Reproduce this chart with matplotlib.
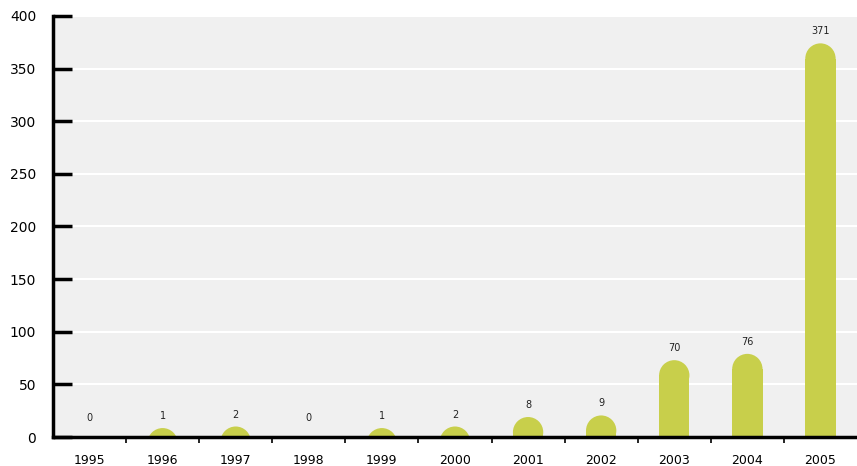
import matplotlib.pyplot as plt
from matplotlib.patches import Ellipse

# data
years = ["1995", "1996", "1997", "1998", "1999", "2000",
         "2001", "2002", "2003", "2004", "2005"]
counts = [0, 1, 2, 0, 1, 2, 8, 9, 70, 76, 371]

bar_color = "#c8cf4b"
bg_color = "#f0f0f0"

plt.rcParams["font.family"] = ["Liberation Sans Narrow", "DejaVu Sans"]

fig = plt.figure(figsize=(8.57, 4.66), dpi=100)
ax = fig.add_axes([0.0618, 0.0622, 0.9382, 0.9035])
ax.set_facecolor(bg_color)
ax.set_xlim(-0.5, len(years) - 0.5)
ax.set_ylim(0, 400)

width = 0.415
# cap radius in data units (half the bar width in pixels)
r = 14.4

for i, v in enumerate(counts):
    if v == 0:
        top = 7
    else:
        # small bars are drawn as bumps, larger ones end at their value
        top = v + 3 if v > 20 else 7 + 1.5 * v
        body = max(top - r, 0)
        if body > 0:
            ax.bar(i, body, width=width, color=bar_color, zorder=3, linewidth=0)
        ax.add_patch(Ellipse((i, top - r), width, 2 * r, color=bar_color,
                             zorder=3, linewidth=0, clip_on=True))
    ax.annotate(str(v), (i, top), xytext=(0, 5), textcoords="offset points",
                ha="center", va="bottom", fontsize=7, color="#222222")

# white gridlines
ax.set_yticks(range(0, 401, 50))
ax.yaxis.grid(True, color="white", linewidth=1.5, zorder=1)
ax.set_axisbelow(True)

ax.set_xticks(range(len(years)))
ax.set_xticklabels(years)
ax.set_xticks([i + 0.5 for i in range(len(years) - 1)], minor=True)
ax.tick_params(axis="x", which="major", length=0, pad=12, labelsize=9)
ax.tick_params(axis="x", which="minor", length=4, width=1.2, direction="out")
ax.tick_params(axis="y", which="major", length=14, width=2.5, direction="in",
               pad=12, labelsize=10)

for side in ["top", "right"]:
    ax.spines[side].set_visible(False)
for side in ["left", "bottom"]:
    ax.spines[side].set_linewidth(2.5)
    ax.spines[side].set_zorder(4)

fig.savefig("out.png", dpi=100)
